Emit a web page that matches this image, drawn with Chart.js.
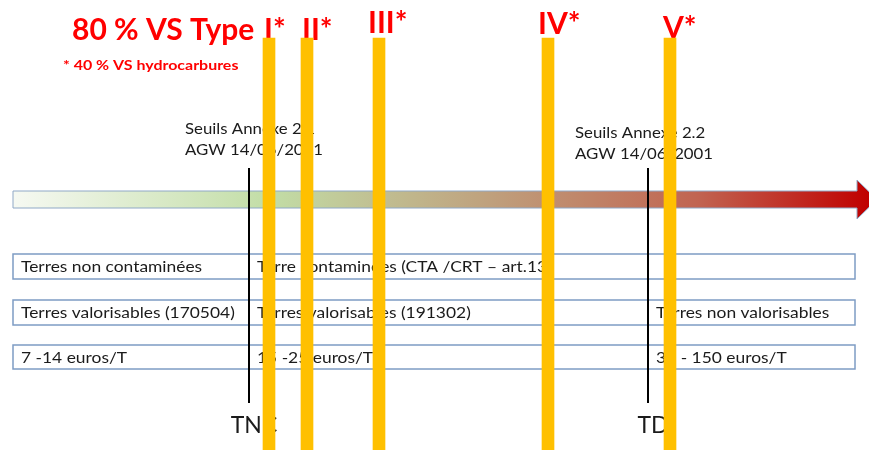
<!DOCTYPE html>
<html>
<head>
<meta charset="utf-8">
<script src="https://cdn.jsdelivr.net/npm/chart.js@4"></script>
<style>
  html, body { margin: 0; padding: 0; background: #fff; }
  #wrap { width: 869px; height: 450px; }
</style>
</head>
<body>
<div id="wrap"><canvas id="canvas"></canvas></div>
<script>
// type thresholds along the contamination scale
const typeLabels = ['I*', 'II*', 'III*', 'IV*', 'V*'];
const typeValues = [269, 307, 379, 548, 670];

// regulatory thresholds
const thresholdLabels = ['TNC', 'TD'];
const thresholdValues = [249, 648];
const seuilLines = [
    ['Seuils Annexe 2.1', 'AGW 14/06/2001'],
    ['Seuils Annexe 2.2', 'AGW 14/06/2001']
];

// table rows: [from, to, text]
const rowSoil = [
    [13, 249, 'Terres non contaminées'],
    [249, 855, 'Terre contaminées (CTA /CRT – art.13']
];
const rowUse = [
    [13, 249, 'Terres valorisables (170504)'],
    [249, 648, 'Terres valorisables (191302)'],
    [648, 855, 'Terres non valorisables']
];
const rowCost = [
    [13, 249, '7 -14 euros/T'],
    [249, 648, '15 -25 euros/T'],
    [648, 855, '30 - 150 euros/T']
];

const FONT = 'Lato, "Open Sans", sans-serif';

// text slightly stretched horizontally, like the original slide
function wideText(ctx, txt, x, y, sx) {
    ctx.save();
    ctx.translate(x, y);
    ctx.scale(sx, 1);
    ctx.fillText(txt, 0, 0);
    ctx.restore();
}

const diagramPlugin = {
    id: 'diagram',
    beforeDatasetsDraw(chart) {
        const ctx = chart.ctx;
        const xs = chart.scales.x, ys = chart.scales.y;
        const px = v => xs.getPixelForValue(v);
        const py = v => ys.getPixelForValue(v);
        ctx.save();

        // gradient arrow
        const x0 = px(13), x1 = px(857), top = py(191), bot = py(208);
        const g = ctx.createLinearGradient(x0, 0, px(869), 0);
        g.addColorStop(0, '#F6F9F2');
        g.addColorStop(0.3, '#C2DDA6');
        g.addColorStop(0.55, '#BFA27E');
        g.addColorStop(0.8, '#C16451');
        g.addColorStop(1, '#C00000');
        ctx.fillStyle = g;
        ctx.strokeStyle = '#8FA8C6';
        ctx.lineWidth = 1;
        ctx.beginPath();
        ctx.moveTo(x0, top);
        ctx.lineTo(x1, top);
        ctx.lineTo(x1, py(180));
        ctx.lineTo(px(877), py(199.5));
        ctx.lineTo(x1, py(219));
        ctx.lineTo(x1, bot);
        ctx.lineTo(x0, bot);
        ctx.closePath();
        ctx.fill();
        ctx.stroke();

        // table rows
        const rows = [[rowSoil, 254, 279], [rowUse, 300, 325], [rowCost, 345, 369]];
        ctx.font = '15px ' + FONT;
        ctx.textBaseline = 'middle';
        rows.forEach(([cells, t, b]) => {
            cells.forEach(([a, z, txt]) => {
                ctx.fillStyle = '#fff';
                ctx.fillRect(px(a), py(t), px(z) - px(a), py(b) - py(t));
                ctx.strokeStyle = '#7E9CC4';
                ctx.lineWidth = 1.5;
                ctx.strokeRect(px(a), py(t), px(z) - px(a), py(b) - py(t));
                ctx.fillStyle = '#1b1b1b';
                wideText(ctx, txt, px(a) + 8, (py(t) + py(b)) / 2 + 1, 1.16);
            });
        });

        // seuils captions
        ctx.fillStyle = '#1b1b1b';
        ctx.textBaseline = 'alphabetic';
        ctx.font = '16px ' + FONT;
        const capX = [185, 575], capY = [134, 138];
        seuilLines.forEach((lines, i) => {
            lines.forEach((l, j) => wideText(ctx, l, capX[i], capY[i] + j * 21, 1.05));
        });

        // threshold names
        ctx.font = '23px ' + FONT;
        ctx.textAlign = 'center';
        thresholdLabels.forEach((l, i) => ctx.fillText(l, px(thresholdValues[i]) + 5, 433));

        // title and type labels
        ctx.fillStyle = '#FF0000';
        ctx.textAlign = 'left';
        ctx.font = 'bold 30px ' + FONT;
        ctx.fillText('80 % VS Type', 72, 40);
        const offs = [-5, -5, -11, -10, -7];
        const base = [40, 40, 33, 34, 38];
        typeLabels.forEach((l, i) => ctx.fillText(l, px(typeValues[i]) + offs[i], base[i]));
        ctx.font = 'bold 14px ' + FONT;
        wideText(ctx, '* 40 % VS hydrocarbures', 63, 70, 1.14);
        ctx.restore();
    }
};

const barData = typeValues.map(v => ({ x: v, y: [38, 450] }));

const lineSets = thresholdValues.map(v => ({
    type: 'line',
    data: [{ x: v, y: 168 }, { x: v, y: 403 }],
    borderColor: '#000',
    borderWidth: 2,
    pointRadius: 0,
    order: 1
}));

new Chart(document.getElementById('canvas'), {
    type: 'bar',
    data: {
        datasets: [
            {
                data: barData,
                backgroundColor: '#FFC000',
                barThickness: 12,
                grouped: false,
                order: 0
            },
            ...lineSets
        ]
    },
    options: {
        responsive: true,
        maintainAspectRatio: false,
        animation: false,
        layout: { padding: 0 },
        scales: {
            x: { type: 'linear', min: 0, max: 869, offset: false, display: false },
            y: { type: 'linear', min: 0, max: 450, reverse: true, display: false }
        },
        plugins: {
            legend: { display: false },
            tooltip: { enabled: false }
        }
    },
    plugins: [diagramPlugin]
});
</script>
</body>
</html>
